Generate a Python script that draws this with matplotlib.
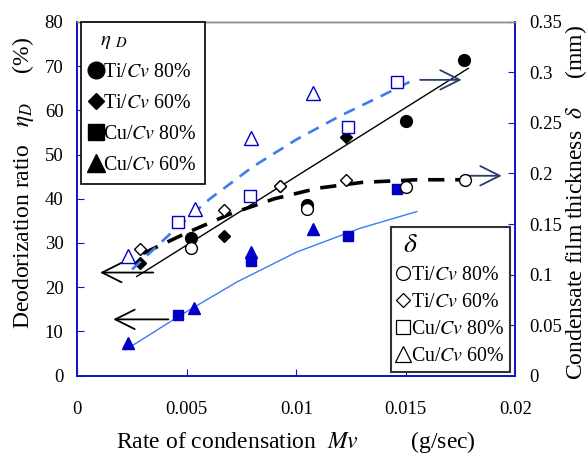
import matplotlib
matplotlib.use("Agg")
import matplotlib.pyplot as plt
from matplotlib.lines import Line2D

plt.rcParams["font.family"] = ["Liberation Serif", "DejaVu Serif"]
plt.rcParams["mathtext.fontset"] = "stix"

# ---------------- data ---------------- #
# deodorization ratio eta_D (%)  -> left axis, filled markers
ti80_x = [0.0052, 0.01047, 0.0150, 0.01766]
ti80_eta = [31.1, 38.6, 57.6, 71.5]
ti60_x = [0.00286, 0.0067, 0.00926, 0.01226]
ti60_eta = [25.4, 31.6, 42.9, 54.0]
cu80_x = [0.00461, 0.00792, 0.01237, 0.01458]
cu80_eta = [13.7, 25.9, 31.6, 42.3]
cu60_x = [0.00233, 0.00534, 0.00793, 0.01075]
cu60_eta = [7.4, 15.2, 27.9, 33.1]

# condensate film thickness delta (mm) -> right axis, open markers
ti80_d_x = [0.0052, 0.01047, 0.0150, 0.0177]
ti80_delta = [0.126, 0.165, 0.187, 0.194]
ti60_d_x = [0.00286, 0.0067, 0.00926, 0.01226]
ti60_delta = [0.125, 0.164, 0.188, 0.194]
cu80_d_x = [0.00461, 0.00789, 0.01235, 0.01458]
cu80_delta = [0.152, 0.178, 0.246, 0.291]
cu60_d_x = [0.00233, 0.00537, 0.00793, 0.01076]
cu60_delta = [0.118, 0.165, 0.235, 0.280]

# trend lines
ti_eta_fit_x = [0.00271, 0.01785]
ti_eta_fit = [22.4, 69.5]
cu_eta_fit_x = [0.0022, 0.0047, 0.0073, 0.0100, 0.0129, 0.0155]
cu_eta_fit = [5.8, 13.6, 21.2, 27.9, 33.3, 37.1]
ti_delta_fit_x = [0.0030, 0.0050, 0.0070, 0.0090, 0.0110, 0.0130, 0.0155, 0.0178]
ti_delta_fit = [0.1208, 0.1413, 0.1601, 0.1750, 0.1855, 0.1912, 0.1938, 0.1938]
cu_delta_fit_x = [0.0025, 0.0044, 0.0060, 0.0080, 0.0100, 0.0120, 0.0140, 0.0152]
cu_delta_fit = [0.105, 0.1435, 0.174, 0.2065, 0.2336, 0.257, 0.278, 0.291]

# arrows (tail, tip) in left-axis units
left_arrows = [((0.00347, 23.3), (0.00104, 23.3)),
               ((0.00416, 12.7), (0.00164, 12.7))]
right_arrows = [((0.01565, 66.9), (0.01755, 66.9)),
                ((0.0177, 45.2), (0.01938, 45.2))]

xticks = [0, 0.005, 0.01, 0.015, 0.02]
xtick_labels = ["0", "0.005", "0.01", "0.015", "0.02"]
yticks = list(range(0, 81, 10))
y2ticks = [0, 0.05, 0.1, 0.15, 0.2, 0.25, 0.3, 0.35]
y2tick_labels = ["0", "0.05", "0.1", "0.15", "0.2", "0.25", "0.3", "0.35"]

# ---------------- styles ---------------- #
BLUE = "#0000C8"
LBLUE = "#3D7BF2"
SPINE = "#1414C8"
ARROW_R = "#24406A"

fig = plt.figure(figsize=(5.88, 4.58), dpi=100)
ax = fig.add_axes([0.1315, 0.1801, 0.7449, 0.7719])
ax2 = ax.twinx()

# trend lines
ax.plot(ti_eta_fit_x, ti_eta_fit, color="black", lw=1.0, zorder=2)
ax.plot(cu_eta_fit_x, cu_eta_fit, color=LBLUE, lw=1.0, zorder=2)
ax2.plot(ti_delta_fit_x, ti_delta_fit, color="black", lw=2.6,
         dashes=(4.5, 3.0), zorder=2)
ax2.plot(cu_delta_fit_x, cu_delta_fit, color=LBLUE, lw=1.9,
         dashes=(4.5, 3.2), zorder=2)

# filled markers (eta_D)
ax.plot(ti80_x, ti80_eta, "o", color="black", ms=8.5, ls="none", zorder=3)
ax.plot(ti60_x, ti60_eta, "D", color="black", ms=6.5, ls="none", zorder=3)
ax.plot(cu80_x, cu80_eta, "s", color=BLUE, ms=7.5, ls="none", zorder=3)
ax.plot(cu60_x, cu60_eta, "^", color=BLUE, ms=9, ls="none", zorder=3)

# open markers (delta)
ax2.plot(ti80_d_x, ti80_delta, "o", mfc="white", mec="black", mew=1.0,
         ms=8.5, ls="none", zorder=3)
ax2.plot(ti60_d_x, ti60_delta, "D", mfc="white", mec="black", mew=1.0,
         ms=6.5, ls="none", zorder=3)
ax2.plot(cu80_d_x, cu80_delta, "s", mfc="white", mec=BLUE, mew=1.0,
         ms=8, ls="none", zorder=3)
ax2.plot(cu60_d_x, cu60_delta, "^", mfc="white", mec=BLUE, mew=1.0,
         ms=9.5, ls="none", zorder=3)

# arrows
for tail, tip in left_arrows:
    ax.annotate("", xy=tip, xytext=tail,
                arrowprops=dict(arrowstyle="->,head_length=0.7,head_width=0.35",
                                color="black", lw=1.3, mutation_scale=20,
                                shrinkA=0, shrinkB=0))
for tail, tip in right_arrows:
    ax.annotate("", xy=tip, xytext=tail,
                arrowprops=dict(arrowstyle="->,head_length=0.7,head_width=0.35",
                                color=ARROW_R, lw=1.3, mutation_scale=20,
                                shrinkA=0, shrinkB=0), zorder=4)

# axes limits / ticks
ax.set_xlim(0, 0.02)
ax.set_ylim(0, 80)
ax2.set_ylim(0, 0.35)
ax.set_xticks(xticks)
ax.set_xticklabels(xtick_labels)
ax.set_yticks(yticks)
ax2.set_yticks(y2ticks)
ax2.set_yticklabels(y2tick_labels)

ax.tick_params(axis="x", direction="in", length=5, color=SPINE, pad=18,
               labelsize=13.5, top=False)
ax.tick_params(axis="y", direction="in", length=5, color=SPINE, pad=10,
               labelsize=13.5)
ax2.tick_params(axis="y", direction="in", length=5, color=SPINE, pad=10,
                labelsize=13.5)

for a in (ax, ax2):
    for side in ("left", "bottom", "right"):
        a.spines[side].set_color(SPINE)
        a.spines[side].set_linewidth(1.3)
    a.spines["top"].set_color("#888888")
    a.spines["top"].set_linewidth(1.0)

ax.set_xlabel(r"Rate of condensation  $Mv$         (g/sec)", fontsize=17)
ax.xaxis.set_label_coords(0.5, -0.152)
ax.set_ylabel(r"Deodorization ratio   $\eta_D$     (%)", fontsize=17)
ax.yaxis.set_label_coords(-0.094, 0.545)
ax2.set_ylabel(r"Condensate film thickness  $\delta$     (mm)", fontsize=17,
               rotation=90)
ax2.yaxis.set_label_coords(1.108, 0.49)

# legends
filled_handles = [
    Line2D([], [], marker="o", color="black", ls="none", ms=12),
    Line2D([], [], marker="D", color="black", ls="none", ms=8.5),
    Line2D([], [], marker="s", color="black", ls="none", ms=11),
    Line2D([], [], marker="^", color="black", ls="none", ms=12.5),
]
open_handles = [
    Line2D([], [], marker="o", mfc="white", mec="black", mew=0.9, ls="none", ms=10),
    Line2D([], [], marker="D", mfc="white", mec="black", mew=0.9, ls="none", ms=7.5),
    Line2D([], [], marker="s", mfc="white", mec="black", mew=0.9, ls="none", ms=9.5),
    Line2D([], [], marker="^", mfc="white", mec="black", mew=0.9, ls="none", ms=11),
]
labels = [r"Ti/$Cv$ 80%", r"Ti/$Cv$ 60%", r"Cu/$Cv$ 80%", r"Cu/$Cv$ 60%"]

leg1 = ax2.legend(filled_handles, labels, loc="upper left",
                  bbox_to_anchor=(0.008, 1.0), borderaxespad=0,
                  title=r"  $\eta$ $_D$", alignment="left",
                  fontsize=14.3, title_fontsize=15, frameon=True,
                  fancybox=False, edgecolor="black", framealpha=1,
                  handlelength=0.6, handletextpad=0.05, labelspacing=0.6,
                  borderpad=0.45)
leg1.get_frame().set_linewidth(1.2)
ax2.add_artist(leg1)

leg2 = ax2.legend(open_handles, labels, loc="lower right",
                  bbox_to_anchor=(0.988, 0.01), borderaxespad=0,
                  title=r" $\delta$", alignment="left",
                  fontsize=14.3, title_fontsize=20, frameon=True,
                  fancybox=False, edgecolor="#333333", framealpha=1,
                  handlelength=0.6, handletextpad=0.1, labelspacing=0.4,
                  borderpad=0.3)
leg2.get_frame().set_linewidth(1.5)

fig.savefig("out.png", dpi=100)
